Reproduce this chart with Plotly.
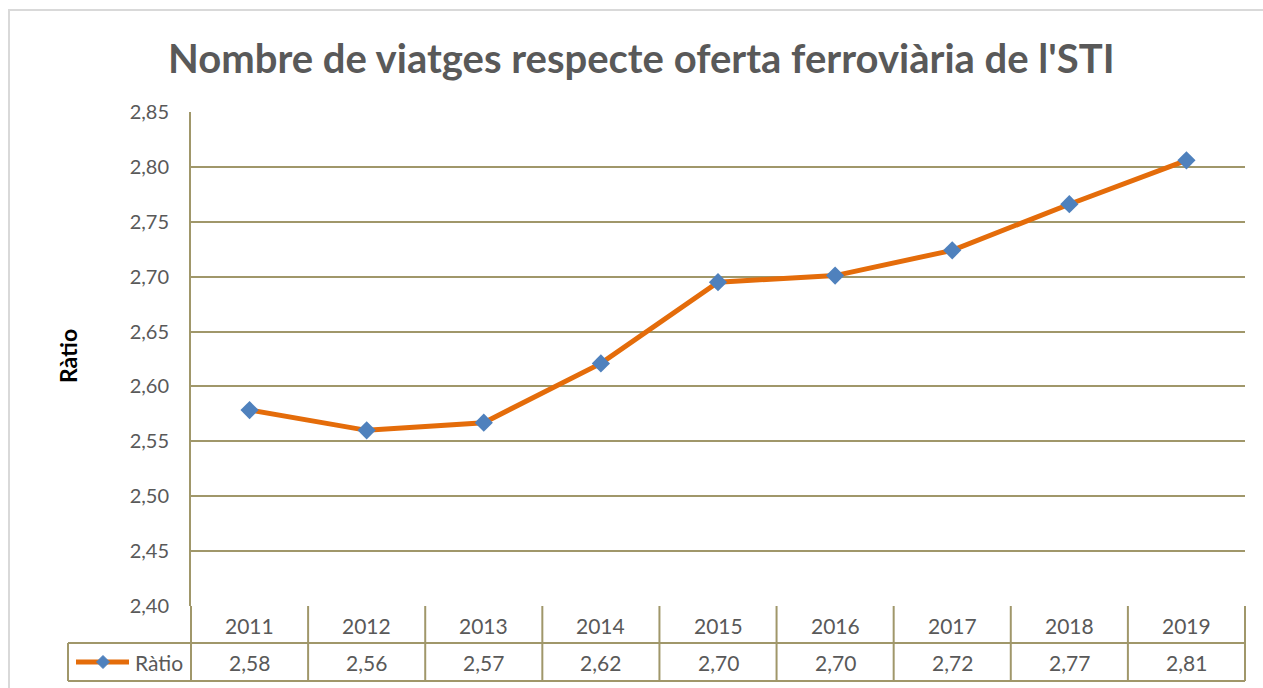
import plotly.graph_objects as go

years = ["2011", "2012", "2013", "2014", "2015", "2016", "2017", "2018", "2019"]
ratio = [2.5785, 2.560, 2.567, 2.621, 2.695, 2.701, 2.724, 2.766, 2.806]
table_values = ["2,58", "2,56", "2,57", "2,62", "2,70", "2,70", "2,72", "2,77", "2,81"]
series_name = "Ràtio"
title_text = "Nombre de viatges respecte oferta ferroviària de l'STI"

W, H = 1263, 688
L, R, T, B = 191, 18, 112, 82
PW, PH = W - L - R, H - T - B

def px(x):
    return (x - L) / PW

def py(y):
    return (H - B - y) / PH

GRID = "#A0976A"
TXT = "#595959"
FONT = "Lato"

fig = go.Figure()
fig.add_trace(go.Scatter(
    x=years, y=ratio, mode="lines+markers", name=series_name,
    line=dict(color="#E46C0A", width=5),
    marker=dict(symbol="diamond", size=14, color="#4F81BD"),
    showlegend=False, cliponaxis=False,
))

shapes = []
# outer chart border
shapes.append(dict(type="rect", xref="paper", yref="paper",
                   x0=px(9), x1=px(1290), y0=py(10), y1=py(710),
                   line=dict(color="#D9D9D9", width=2)))
# table horizontal lines
for yy, x0 in [(643, 68), (681, 68)]:
    shapes.append(dict(type="line", xref="paper", yref="paper",
                       x0=px(x0), x1=1, y0=py(yy), y1=py(yy),
                       line=dict(color=GRID, width=2)))
# table vertical lines
n = len(years)
for k in range(n + 1):
    shapes.append(dict(type="line", xref="paper", yref="paper",
                       x0=k / n, x1=k / n, y0=0, y1=py(681),
                       line=dict(color=GRID, width=2)))
shapes.append(dict(type="line", xref="paper", yref="paper",
                   x0=px(68), x1=px(68), y0=py(643), y1=py(681),
                   line=dict(color=GRID, width=2)))
# legend key in table
shapes.append(dict(type="line", xref="paper", yref="paper",
                   x0=px(76), x1=px(129), y0=py(662), y1=py(662),
                   line=dict(color="#E46C0A", width=5)))
cx, cy, s = 103, 662, 6.5
shapes.append(dict(type="path", xref="paper", yref="paper",
                   path=f"M {px(cx-s)} {py(cy)} L {px(cx)} {py(cy-s)} L {px(cx+s)} {py(cy)} L {px(cx)} {py(cy+s)} Z",
                   fillcolor="#4F81BD", line=dict(color="#4F81BD", width=1)))

annotations = []
annotations.append(dict(text=f"<b>{title_text}</b>", xref="paper", yref="paper",
                        x=px(641), y=py(58), xanchor="center", yanchor="middle",
                        showarrow=False, font=dict(family=FONT, size=40, color=TXT)))
annotations.append(dict(text="<b>Ràtio</b>", xref="paper", yref="paper",
                        x=px(68), y=py(356), xanchor="center", yanchor="middle",
                        textangle=-90, showarrow=False,
                        font=dict(family=FONT, size=23, color="#000000")))
for i, (yr, v) in enumerate(zip(years, table_values)):
    xc = (i + 0.5) / n
    annotations.append(dict(text=yr, xref="paper", yref="paper", x=xc, y=py(625),
                            xanchor="center", yanchor="middle", showarrow=False,
                            font=dict(family=FONT, size=21, color=TXT)))
    annotations.append(dict(text=v, xref="paper", yref="paper",
                            x=xc, y=py(662), xanchor="center", yanchor="middle",
                            showarrow=False, font=dict(family=FONT, size=21, color=TXT)))
annotations.append(dict(text=series_name, xref="paper", yref="paper", x=px(159), y=py(662),
                        xanchor="center", yanchor="middle", showarrow=False,
                        font=dict(family=FONT, size=21, color=TXT)))

fig.update_layout(
    width=W, height=H,
    margin=dict(l=L, r=R, t=T, b=B),
    paper_bgcolor="white", plot_bgcolor="white",
    separators=",.",
    xaxis=dict(type="category", range=[-0.5, n - 0.5], showticklabels=False,
               showgrid=False, zeroline=False, showline=False, ticks=""),
    yaxis=dict(range=[2.40, 2.85], dtick=0.05, tick0=2.40, tickformat=".2f",
               showgrid=True, gridcolor=GRID, gridwidth=2, zeroline=False,
               showline=True, linecolor=GRID, linewidth=2, ticks="",
               ticklabelstandoff=16,
               tickfont=dict(family=FONT, size=20, color=TXT)),
    shapes=shapes, annotations=annotations,
)

fig.write_html("out.html", config={"displayModeBar": False},
               post_script="document.body.style.margin='0';document.body.style.overflow='hidden';")
